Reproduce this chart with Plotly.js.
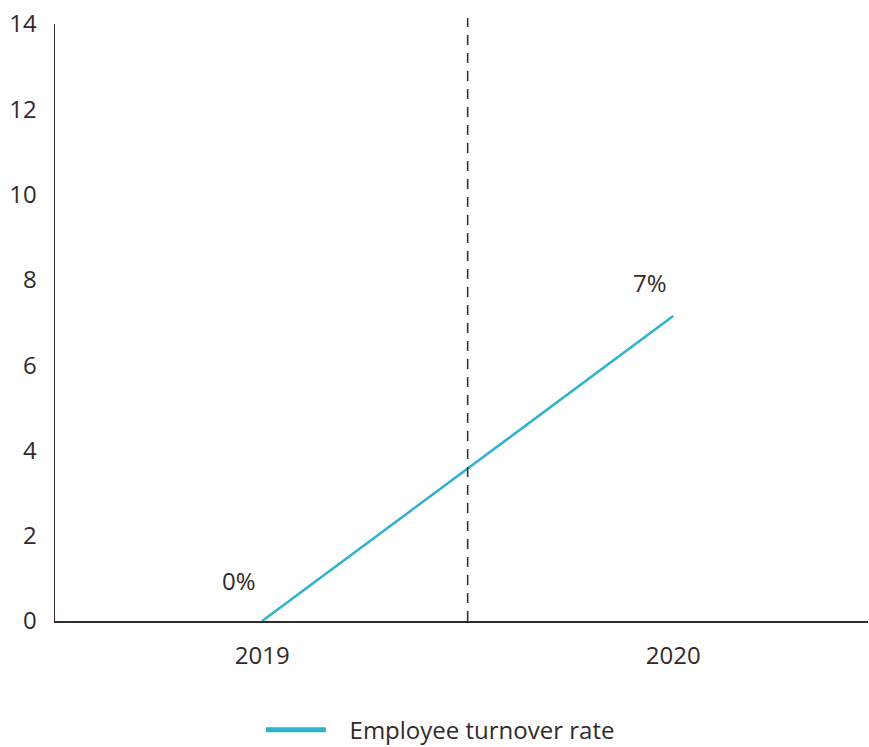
<!DOCTYPE html>
<html>
<head>
<meta charset="utf-8">
<script src="https://cdn.plot.ly/plotly-3.0.1.min.js"></script>
<style>body{margin:0;background:#fff}#chart{width:869px;height:747px}</style>
</head>
<body>
<div id="chart"></div>
<script>
var categories = ["2019", "2020"];
var turnoverValues = [0, 7.15];
var pointLabels = ["0%", "7%"];
var seriesName = "Employee turnover rate";
var yTicks = [0, 2, 4, 6, 8, 10, 12, 14];

var textColor = "#332a2a";
var lineColor = "#2fb2cb";

var traces = [
  {
    x: [0, 1],
    y: turnoverValues,
    type: "scatter",
    mode: "lines",
    line: {color: lineColor, width: 2.5},
    showlegend: false,
    hoverinfo: "skip"
  },
  {
    x: [null],
    y: [null],
    type: "scatter",
    mode: "lines",
    name: "\u00a0\u00a0\u00a0" + seriesName,
    line: {color: lineColor, width: 5},
    showlegend: true
  }
];

var annotations = turnoverValues.map(function (v, i) {
  return {
    x: i, y: v, xref: "x", yref: "y",
    text: pointLabels[i], showarrow: false,
    xshift: -23, yshift: i === 0 ? 41 : 34,
    font: {size: 24, color: textColor}
  };
});

var layout = {
  width: 869,
  height: 747,
  margin: {l: 55, r: 1, t: 24, b: 126, autoexpand: false},
  paper_bgcolor: "#fff",
  plot_bgcolor: "#fff",
  font: {family: "Open Sans, Noto Sans, sans-serif", color: textColor, size: 24},
  xaxis: {
    range: [-0.504, 1.474],
    tickvals: [0, 1],
    ticktext: categories,
    showgrid: false,
    zeroline: false,
    showline: true,
    linecolor: textColor,
    linewidth: 2,
    ticks: "",
    ticklabelstandoff: 12,
    tickfont: {size: 24, color: textColor},
    fixedrange: true,
    automargin: false
  },
  yaxis: {
    range: [0, 14],
    tickvals: yTicks,
    showgrid: false,
    zeroline: false,
    showline: true,
    linecolor: textColor,
    linewidth: 1.5,
    ticks: "",
    ticklabelstandoff: 12,
    tickfont: {size: 24, color: textColor},
    fixedrange: true,
    automargin: false
  },
  shapes: [{
    type: "line", xref: "x", yref: "paper",
    x0: 0.5, x1: 0.5, y0: 0, y1: 1.01,
    line: {color: textColor, width: 1.5, dash: "10px,8px"}
  }],
  annotations: annotations,
  showlegend: true,
  legend: {
    orientation: "h",
    x: 0.474, xanchor: "center",
    y: -0.145, yanchor: "top",
    font: {size: 24, color: textColor},
    itemwidth: 60
  }
};

Plotly.newPlot("chart", traces, layout, {displayModeBar: false, staticPlot: true});
</script>
</body>
</html>
